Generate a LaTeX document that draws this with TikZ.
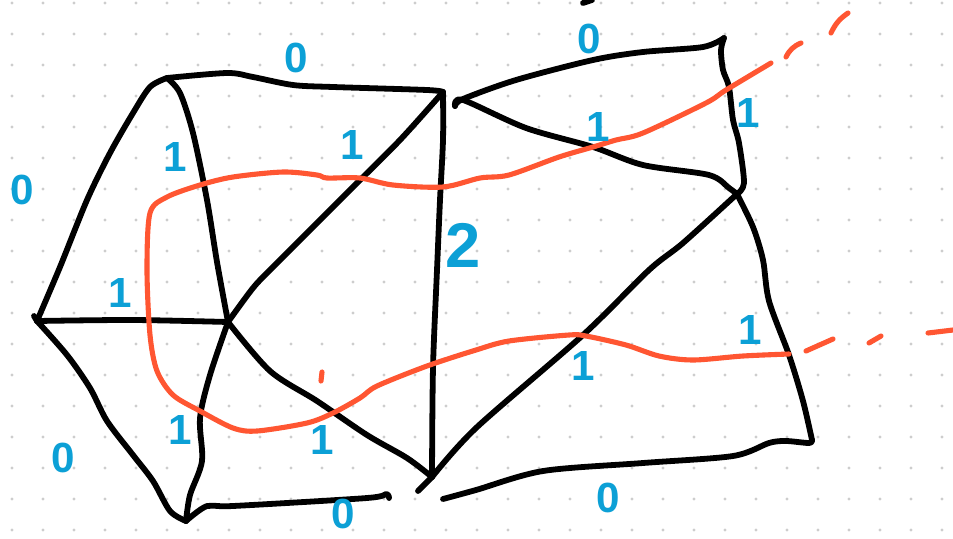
\documentclass[tikz,border=0pt]{standalone}
\usepackage{fontspec}
\setmainfont{Liberation Sans}
\usepackage{xcolor}
\usetikzlibrary{calc}
\definecolor{inkblue}{RGB}{12,160,214}
\definecolor{cutred}{RGB}{255,86,50}
\definecolor{dotgray}{RGB}{205,205,205}
\tikzset{
  edge/.style={line width=3.3pt, line cap=round, line join=round, black},
  cutline/.style={line width=2.9pt, line cap=round, line join=round, cutred},
  wt/.style={text=inkblue, font=\bfseries\fontsize{24}{24}\selectfont, inner sep=0pt},
  bigwt/.style={wt, font=\bfseries\fontsize{36}{36}\selectfont}
}

\begin{document}
\begin{tikzpicture}[x=0.02cm, y=-0.02cm]
    \useasboundingbox (0,0) rectangle (953,538);
    \fill[white] (0,0) rectangle (953,538);
    \foreach \gx in {12,43,...,953}
      \foreach \gy in {3,34,...,538}
        \fill[dotgray] (\gx,\gy) circle (1.6);
    \coordinate (lft) at (37,321);
    \coordinate (tl) at (167,78);
    \coordinate (tm) at (443,92);
    \coordinate (tmr) at (455,106);
    \coordinate (tr) at (724,38);
    \coordinate (rm) at (737,194);
    \coordinate (cl) at (228,322);
    \coordinate (bl) at (186,521);
    \coordinate (bm) at (432,477);
    \coordinate (bmr) at (443,499);
    \coordinate (br) at (812,440);
    \draw[edge] plot[smooth, tension=0.5] coordinates {(lft) (60,267) (87,200) (110,153) (133,113) (150,87) (tl)};
    \draw[edge] plot[smooth, tension=0.5] coordinates {(tl) (227,73) (253,77) (293,85) (333,87) (427,90) (tm)};
    \draw[edge] plot[smooth, tension=0.5] coordinates {(tl) (180,93) (193,133) (207,200) (217,262) (cl)};
    \draw[edge] plot[smooth, tension=0.5] coordinates {(lft) (133,320) (cl)};
    \draw[edge] plot[smooth, tension=0.5] coordinates {(lft) (67,355) (90,388) (107,421) (133,455) (153,481) (170,511) (bl)};
    \draw[edge] plot[smooth, tension=0.5] coordinates {(cl) (253,288) (273,267) (350,190) (400,140) (tm)};
    \draw[edge] plot[smooth, tension=0.5] coordinates {(tm) (443,140) (440,200) (437,270) (433,368) (bm)};
    \draw[edge] plot[smooth, tension=0.5] coordinates {(tmr) (463,99) (516,80) (593,60) (643,52) (703,47) (tr)};
    \draw[edge] plot[smooth, tension=0.5] coordinates {(tmr) (463,100) (526,128) (593,147) (643,165) (709,175) (729,188) (rm)};
    \draw[edge] plot[smooth, tension=0.5] coordinates {(tr) (721,50) (723,70) (729,87) (733,120) (739,143) (744,183) (rm)};
    \draw[edge] plot[smooth, tension=0.5] coordinates {(rm) (683,243) (649,270) (583,335) (476,428) (bm)};
    \draw[edge] plot[smooth, tension=0.5] coordinates {(rm) (753,227) (763,260) (769,301) (789,355) (803,401) (br)};
    \draw[edge] plot[smooth, tension=0.5] coordinates {(br) (809,443) (786,441) (769,443) (733,456) (643,463) (543,471) (476,490) (bmr)};
    \draw[edge] plot[smooth, tension=0.5] coordinates {(cl) (270,371) (317,401) (367,435) (407,458) (bm)};
    \draw[edge] plot[smooth, tension=0.5] coordinates {(cl) (210,375) (200,418) (202,461) (190,495) (bl)};
    \draw[edge] plot[smooth, tension=0.5] coordinates {(bl) (207,506) (233,506) (367,498) (386,494) (389,498)};
    \draw[edge] (bm) -- (418,491);
    \draw[edge] (lft) -- (34,316);
    \draw[edge] (583,3) -- (592,0);
    \draw[cutline] plot[smooth, tension=0.5] coordinates {(771,63) (726,90) (706,103) (643,133) (616,140) (593,147) (559,157) (509,175) (480,178) (443,187) (393,185) (360,178) (327,178) (317,175) (283,172) (233,177) (200,185) (167,197) (150,213) (147,270) (150,335) (157,371) (173,395) (200,411) (233,428) (257,431) (307,423) (333,413) (360,398) (377,386) (427,366) (476,350) (509,341) (569,335) (586,336) (626,345) (659,356) (693,360) (743,356) (789,354)};
    \draw[cutline] (786,57) to[bend left=20] (801,43);
    \draw[cutline] (831,33) to[bend left=15] (848,13);
    \draw[cutline] (806,351) -- (833,339);
    \draw[cutline] (869,343) -- (881,336);
    \draw[cutline] (928,333) -- (953,330);
    \draw[cutline] (322,372) -- (321,381);
    \node[wt] (w_tltm) at (296,58) {0};
    \node[wt] (w_lft) at (22,190) {0};
    \node[wt] (w_tlcl) at (175,157) {1};
    \node[wt] (w_cltm) at (352,145) {1};
    \node[bigwt] (w_tmbm) at (463,245) {2};
    \node[wt] (w_tmtr) at (589,39) {0};
    \node[wt] (w_tmrm) at (598,127) {1};
    \node[wt] (w_trrm) at (748,113) {1};
    \node[wt] (w_lftcl) at (120,293) {1};
    \node[wt] (w_clbl) at (180,430) {1};
    \node[wt] (w_lftbl) at (63,458) {0};
    \node[wt] (w_clbm) at (322,440) {1};
    \node[wt] (w_blbm) at (343,514) {0};
    \node[wt] (w_rmbm) at (583,366) {1};
    \node[wt] (w_rmbr) at (750,330) {1};
    \node[wt] (w_bmbr) at (608,498) {0};
\end{tikzpicture}
\end{document}
